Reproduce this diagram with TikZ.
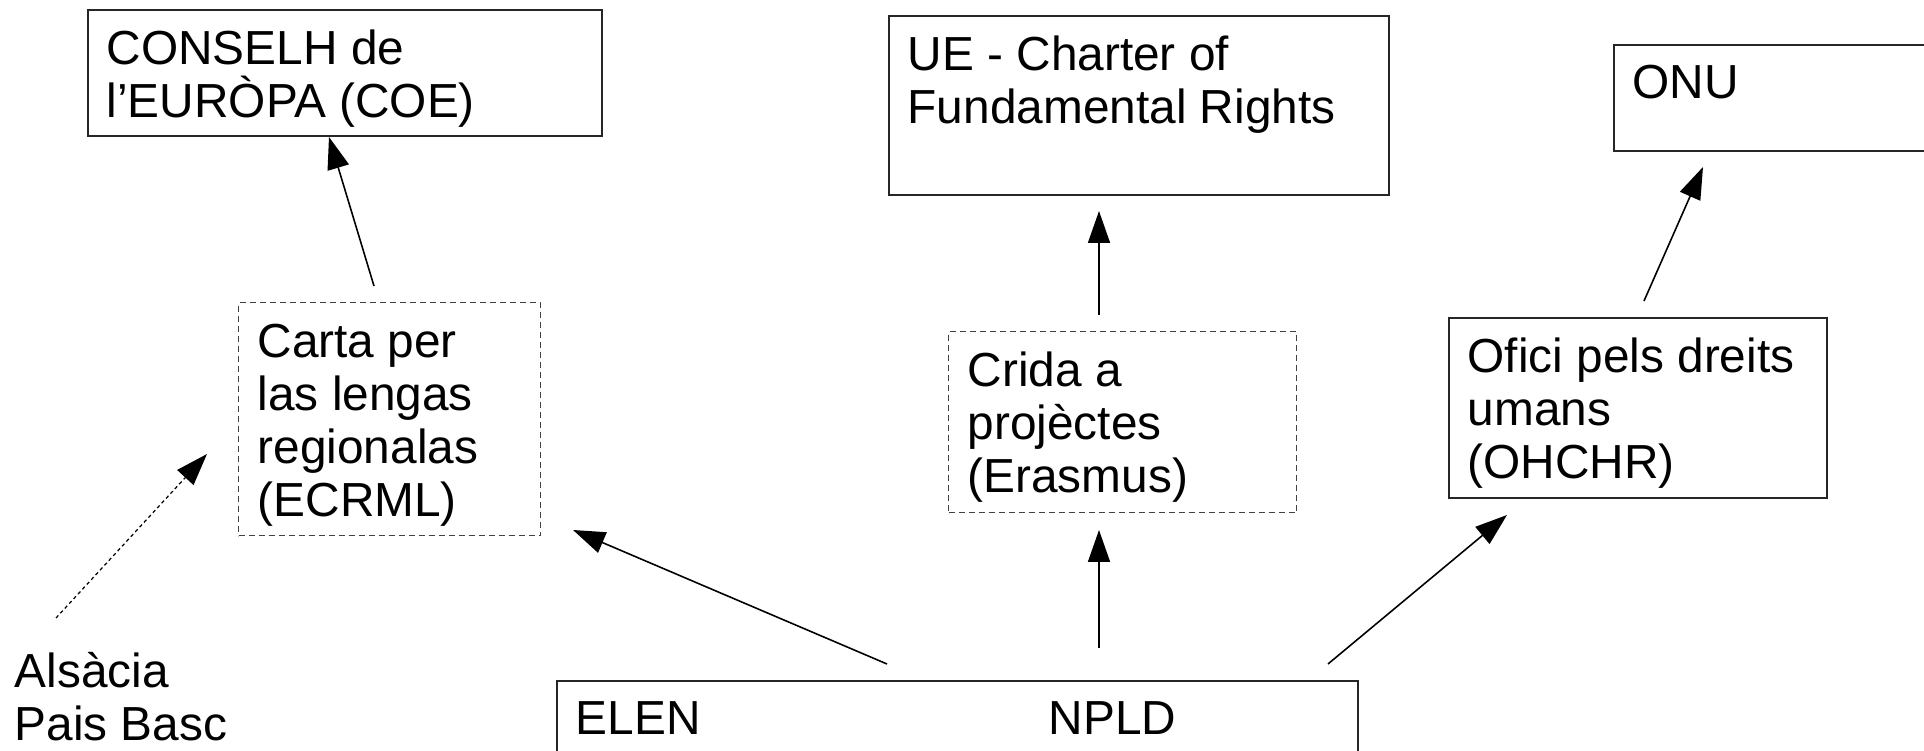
\documentclass[tikz,border=0pt]{standalone}
\usepackage{fontspec}
\setmainfont{Liberation Sans}
\usetikzlibrary{arrows.meta}

\newcommand\lbl{\fontsize{13.6pt}{15.1pt}\selectfont}

\tikzset{
  frame/.style={draw=black!85, line width=0.45pt, anchor=north west, inner sep=0pt},
  dframe/.style={frame, draw=black!75, line width=0.4pt, dash pattern=on 0.6mm off 0.4mm},
  % anchored on the baseline of the last line
  txt/.style={anchor=base west, inner sep=0pt, align=left, font=\lbl},
  arr/.style={line width=0.45pt, -{Triangle[length=3.2mm,width=2.2mm]}},
  darr/.style={arr, line width=0.35pt, dash pattern=on 0.35mm off 0.3mm}
}

\begin{document}
\begin{tikzpicture}
  \useasboundingbox (0,0) rectangle (19.24,-7.51);
  \clip (0,0) rectangle (19.24,-7.51);

  % boxes
  \node[frame, minimum width=5.14cm, minimum height=1.26cm] (coe) at (0.87,-0.09) {};
  \node[frame, minimum width=5.00cm, minimum height=1.79cm] (ue) at (8.88,-0.15) {};
  \node[frame, minimum width=3.60cm, minimum height=1.06cm] (onu) at (16.13,-0.44) {};
  \node[dframe, minimum width=3.02cm, minimum height=2.33cm] (ecrml) at (2.38,-3.02) {};
  \node[dframe, minimum width=3.48cm, minimum height=1.81cm] (crida) at (9.48,-3.31) {};
  \node[frame, minimum width=3.78cm, minimum height=1.80cm] (ohchr) at (14.48,-3.17) {};
  \node[frame, minimum width=8.01cm, minimum height=1.20cm] (org) at (5.56,-6.80) {};

  % texts (first baseline 0.55 below the top, lines 0.531 apart)
  \node[txt] (coe-t) at ([shift={(0.19,{-0.55-1*0.531})}]coe.north west) {CONSELH de\\l’EURÒPA (COE)};
  \node[txt] (ue-t) at ([shift={(0.19,{-0.55-1*0.531})}]ue.north west) {UE - Charter of\\Fundamental Rights};
  \node[txt] (onu-t) at ([shift={(0.19,-0.55)}]onu.north west) {ONU};
  \node[txt] (ecrml-t) at ([shift={(0.19,{-0.55-3*0.531})}]ecrml.north west) {Carta per\\las lengas\\regionalas\\(ECRML)};
  \node[txt] (crida-t) at ([shift={(0.19,{-0.55-2*0.531})}]crida.north west) {Crida a\\projèctes\\(Erasmus)};
  \node[txt] (ohchr-t) at ([shift={(0.19,{-0.55-2*0.531})}]ohchr.north west) {Ofici pels dreits\\umans\\(OHCHR)};
  \node[txt] (elen) at ([shift={(0.19,-0.55)}]org.north west) {ELEN};
  \node[txt] (npld) at ([shift={(4.92,-0.55)}]org.north west) {NPLD};
  \node[txt] (regions) at (0.14,-7.41) {Alsàcia\\Pais Basc};

  % arrow ends
  \coordinate (a) at (3.74,-2.86);
  \coordinate (b) at (3.29,-1.37);
  \coordinate (c) at (8.87,-6.64);
  \coordinate (d) at (5.73,-5.30);
  \coordinate (e) at (10.99,-6.48);
  \coordinate (f) at (10.99,-5.30);
  \coordinate (g) at (13.28,-6.64);
  \coordinate (h) at (15.07,-5.15);
  \coordinate (i) at (10.99,-3.15);
  \coordinate (j) at (10.99,-2.11);
  \coordinate (k) at (16.44,-3.01);
  \coordinate (l) at (17.03,-1.67);
  \coordinate (m) at (0.56,-6.18);
  \coordinate (n) at (2.07,-4.54);

  \draw[arr] (a) -- (b);
  \draw[arr] (c) -- (d);
  \draw[arr] (e) -- (f);
  \draw[arr] (g) -- (h);
  \draw[arr] (i) -- (j);
  \draw[arr] (k) -- (l);
  \draw[darr] (m) -- (n);
\end{tikzpicture}
\end{document}
